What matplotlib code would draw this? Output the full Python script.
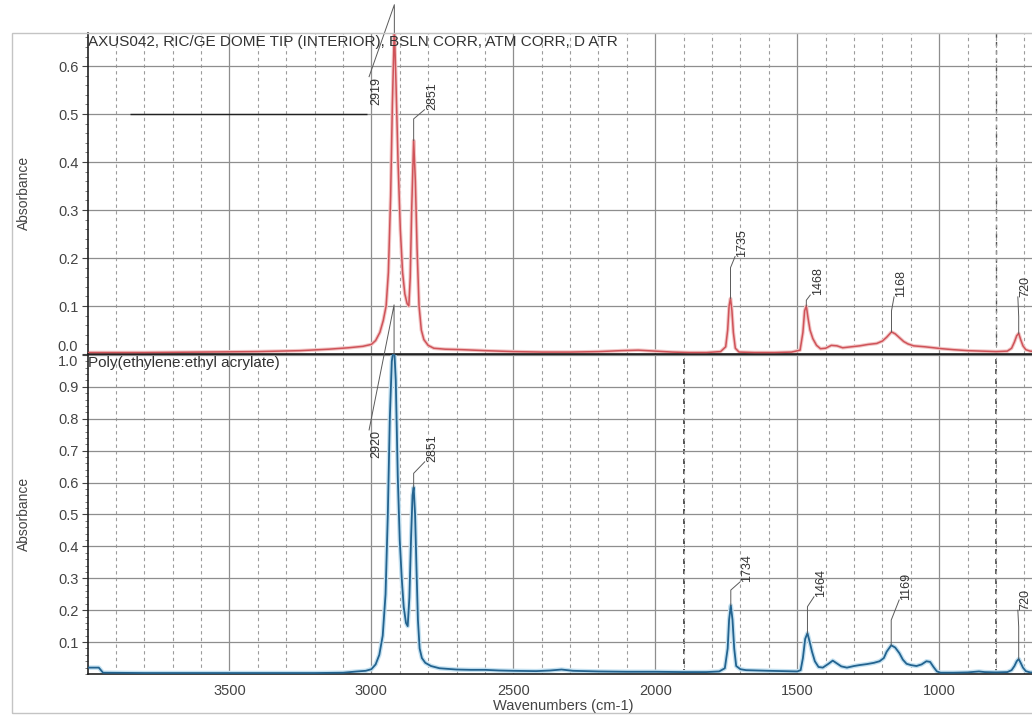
import matplotlib.pyplot as plt
import numpy as np
from matplotlib.ticker import MultipleLocator, FixedLocator
from matplotlib.patches import Rectangle

plt.rcParams['font.family'] = ['Liberation Sans', 'DejaVu Sans']

# Спектр образца (верхняя панель)
red_wn = [4000, 3800, 3600, 3400, 3250, 3150, 3080, 3030, 3000, 2985, 2970, 2958,
          2948, 2940, 2932, 2926, 2919, 2913, 2906, 2898, 2890, 2882, 2874, 2868,
          2863, 2858, 2851, 2845, 2839, 2832, 2824, 2815, 2800, 2780, 2740, 2680,
          2600, 2500, 2400, 2300, 2200, 2120, 2060, 2000, 1940, 1880, 1820, 1770,
          1752, 1745, 1740, 1735, 1730, 1725, 1718, 1705, 1650, 1580, 1520, 1490,
          1480, 1474, 1468, 1462, 1455, 1445, 1432, 1418, 1400, 1380, 1360, 1340,
          1310, 1280, 1250, 1220, 1200, 1185, 1168, 1155, 1140, 1125, 1110, 1090,
          1070, 1050, 1020, 990, 950, 900, 850, 800, 760, 745, 735, 727, 720, 713,
          705, 695, 680, 660]
red_abs = [0.003, 0.003, 0.004, 0.005, 0.007, 0.010, 0.013, 0.016, 0.020, 0.028, 0.045, 0.070,
           0.100, 0.170, 0.330, 0.520, 0.680, 0.560, 0.400, 0.260, 0.170, 0.125, 0.105, 0.100,
           0.160, 0.300, 0.445, 0.360, 0.220, 0.100, 0.050, 0.030, 0.018, 0.012, 0.010, 0.009,
           0.007, 0.005, 0.004, 0.004, 0.005, 0.007, 0.008, 0.006, 0.004, 0.003, 0.003, 0.005,
           0.015, 0.050, 0.100, 0.116, 0.090, 0.045, 0.012, 0.004, 0.003, 0.003, 0.004, 0.008,
           0.045, 0.090, 0.100, 0.075, 0.050, 0.032, 0.018, 0.011, 0.012, 0.018, 0.017, 0.013,
           0.015, 0.017, 0.020, 0.022, 0.027, 0.035, 0.046, 0.042, 0.034, 0.026, 0.021, 0.017,
           0.016, 0.015, 0.013, 0.011, 0.009, 0.007, 0.006, 0.005, 0.006, 0.012, 0.025, 0.038, 0.043, 0.030,
           0.017, 0.009, 0.006, 0.005]

# Эталон Poly(ethylene:ethyl acrylate) (нижняя панель)
blue_wn = [4000, 3960, 3945, 3800, 3600, 3400, 3200, 3100, 3050, 3020, 3000, 2985,
           2972, 2960, 2950, 2942, 2935, 2928, 2920, 2914, 2907, 2900, 2893, 2886,
           2878, 2872, 2866, 2860, 2855, 2851, 2846, 2841, 2836, 2830, 2822, 2810,
           2790, 2760, 2700, 2650, 2600, 2550, 2500, 2420, 2370, 2330, 2290, 2200,
           2100, 2000, 1900, 1820, 1775, 1755, 1745, 1740, 1734, 1728, 1722, 1715,
           1700, 1680, 1640, 1600, 1550, 1500, 1488, 1480, 1472, 1464, 1456, 1448,
           1438, 1425, 1410, 1390, 1375, 1360, 1345, 1325, 1300, 1280, 1255, 1230,
           1210, 1195, 1185, 1169, 1155, 1140, 1128, 1115, 1100, 1080, 1062, 1045,
           1032, 1020, 1008, 995, 950, 900, 860, 840, 800, 760, 745, 735, 727, 720,
           713, 705, 695, 680, 660]
blue_abs = [0.020, 0.020, 0.004, 0.003, 0.003, 0.003, 0.003, 0.004, 0.008, 0.010, 0.015, 0.030,
            0.060, 0.120, 0.250, 0.500, 0.800, 0.980, 1.030, 0.920, 0.620, 0.420, 0.300, 0.210,
            0.160, 0.150, 0.240, 0.430, 0.560, 0.585, 0.500, 0.330, 0.170, 0.080, 0.050, 0.035,
            0.025, 0.018, 0.014, 0.013, 0.013, 0.011, 0.010, 0.009, 0.011, 0.014, 0.010, 0.008,
            0.007, 0.007, 0.006, 0.006, 0.008, 0.018, 0.080, 0.170, 0.215, 0.170, 0.080, 0.025,
            0.015, 0.012, 0.011, 0.010, 0.009, 0.008, 0.012, 0.050, 0.110, 0.128, 0.100, 0.070,
            0.040, 0.022, 0.020, 0.032, 0.042, 0.033, 0.024, 0.020, 0.025, 0.028, 0.031, 0.035,
            0.040, 0.050, 0.070, 0.090, 0.083, 0.065, 0.045, 0.032, 0.028, 0.025, 0.030, 0.040,
            0.038, 0.022, 0.008, 0.004, 0.004, 0.005, 0.008, 0.006, 0.005, 0.006, 0.012, 0.025, 0.040, 0.047,
            0.035, 0.020, 0.009, 0.005, 0.004]

# Подписи пиков
top_labels = ['2919', '2851', '1735', '1468', '1168', '720']
top_peak_wn = [2919, 2851, 1735, 1468, 1168, 720]
top_label_x = [2982, 2787, 1693, 1428, 1133, 697]
top_label_y = [0.578, 0.509, 0.203, 0.123, 0.119, 0.119]
top_knee_y = [0.728, 0.49, 0.18, 0.112, 0.09, 0.078]

bot_labels = ['2920', '2851', '1734', '1464', '1169', '720']
bot_peak_wn = [2920, 2851, 1734, 1464, 1169, 720]
bot_label_x = [2982, 2786, 1675, 1415, 1115, 697]
bot_label_y = [0.765, 0.665, 0.289, 0.242, 0.232, 0.20]
bot_knee_y = [1.157, 0.629, 0.263, 0.211, 0.169, 0.148]

W, H = 1032, 715
fig = plt.figure(figsize=(W / 100, H / 100), dpi=100)
# оси немного вылезают за правый край, как на скане
ax1 = fig.add_axes([88 / W, (H - 354) / H, 950 / W, 321 / H])
ax2 = fig.add_axes([88 / W, (H - 674) / H, 950 / W, 320 / H])


def style(ax, ylim, yticks):
    ax.set_xlim(3998, 652)
    ax.set_ylim(*ylim)
    ax.xaxis.set_major_locator(FixedLocator([3500, 3000, 2500, 2000, 1500, 1000]))
    ax.xaxis.set_minor_locator(MultipleLocator(100))
    ax.yaxis.set_major_locator(FixedLocator(yticks))
    ax.yaxis.set_minor_locator(MultipleLocator(0.02))
    ax.grid(which='major', axis='both', color='#8e8e8e', lw=0.9)
    ax.grid(which='minor', axis='x', color='#9c9c9c', lw=0.8, ls=(0, (3, 3)))
    ax.tick_params(axis='x', which='both', length=0, labelsize=10.5,
                   labelcolor='#444', pad=7)
    ax.tick_params(axis='y', which='major', length=4, width=0.8, color='#444',
                   labelsize=10.5, labelcolor='#444', pad=3)
    ax.tick_params(axis='y', which='minor', length=2.5, width=0.6, color='#666')
    ax.spines['right'].set_visible(False)
    ax.spines['left'].set_color('#222')
    ax.spines['left'].set_linewidth(1.2)
    ax.spines['bottom'].set_color('#222')
    ax.spines['bottom'].set_linewidth(1.2)
    ax.set_axisbelow(True)


style(ax1, (0, 0.669), [0.0, 0.1, 0.2, 0.3, 0.4, 0.5, 0.6])
style(ax2, (0, 1.003), [0.1, 0.2, 0.3, 0.4, 0.5, 0.6, 0.7, 0.8, 0.9, 1.0])
ax1.tick_params(axis='x', labelbottom=False)
ax1.spines['top'].set_color('#bbbbbb')
ax2.spines['top'].set_color('#222')
ax1.set_yticklabels(['0.0', '0.1', '0.2', '0.3', '0.4', '0.5', '0.6'])
ax2.set_yticklabels(['0.1', '0.2', '0.3', '0.4', '0.5', '0.6', '0.7', '0.8', '0.9', '1.0'])
ax1.get_yticklabels()[0].set_va('bottom')
ax2.get_yticklabels()[-1].set_va('top')

# тёмные линии сетки от скана
ax1.axvline(800, color='#555', lw=1.0, ls=(0, (3, 3)), zorder=0.5)
ax2.axvline(800, color='#444', lw=1.2, ls=(0, (3, 3)), zorder=0.5)
ax2.axvline(1900, color='#333', lw=1.2, ls=(0, (3, 3)), zorder=0.5)
ax1.hlines(0.5, 3850, 3015, color='#222', lw=1.0, zorder=0.6)

# спектры
ax1.plot(red_wn, red_abs, color='#f2c6c6', lw=2.6, zorder=2)
ax1.plot(red_wn, red_abs, color='#cf5359', lw=1.1, zorder=3)
ax2.plot(blue_wn, blue_abs, color='#c4e1f1', lw=3.2, zorder=2)
ax2.plot(blue_wn, blue_abs, color='#23638f', lw=1.3, zorder=3)


def peak_labels(ax, wn, ab, labels, peaks, lx, ly, knee):
    top = ax.get_ylim()[1]
    for t, p, x, y, k in zip(labels, peaks, lx, ly, knee):
        h = min(np.interp(p, wn[::-1], ab[::-1]), top)
        ax.plot([p, p, x + 26], [h, k, y], color='#5a5a5a', lw=0.7,
                clip_on=False, zorder=4)
        va = 'top' if k > y else 'bottom'
        ax.text(x, y, t, rotation=90, ha='center', va=va, fontsize=9,
                color='#333', zorder=5)


peak_labels(ax1, red_wn, red_abs, top_labels, top_peak_wn, top_label_x,
            top_label_y, top_knee_y)
peak_labels(ax2, blue_wn, blue_abs, bot_labels, bot_peak_wn, bot_label_x,
            bot_label_y, bot_knee_y)

# подписи
fig.text(88 / W, 1 - 42 / H, 'AXUS042, RIC/GE DOME TIP (INTERIOR), BSLN CORR, ATM CORR, D ATR',
         fontsize=11, color='#333', va='center', ha='left')
fig.text(88 / W, 1 - 363 / H, 'Poly(ethylene:ethyl acrylate)',
         fontsize=11, color='#333', va='center', ha='left')
fig.text(24 / W, 1 - 193 / H, 'Absorbance', rotation=90, fontsize=10,
         color='#444', va='center', ha='center')
fig.text(24 / W, 1 - 514 / H, 'Absorbance', rotation=90, fontsize=10,
         color='#444', va='center', ha='center')
fig.text(563 / W, 1 - 706 / H, 'Wavenumbers (cm-1)', fontsize=10.5,
         color='#444', va='center', ha='center')

# рамка вокруг всего графика
fig.add_artist(Rectangle((12 / W, 2 / H), 1030 / W, (H - 35) / H,
                         transform=fig.transFigure, fill=False,
                         ec='#c4c4c4', lw=1.0))

plt.savefig('out.png', dpi=100)
